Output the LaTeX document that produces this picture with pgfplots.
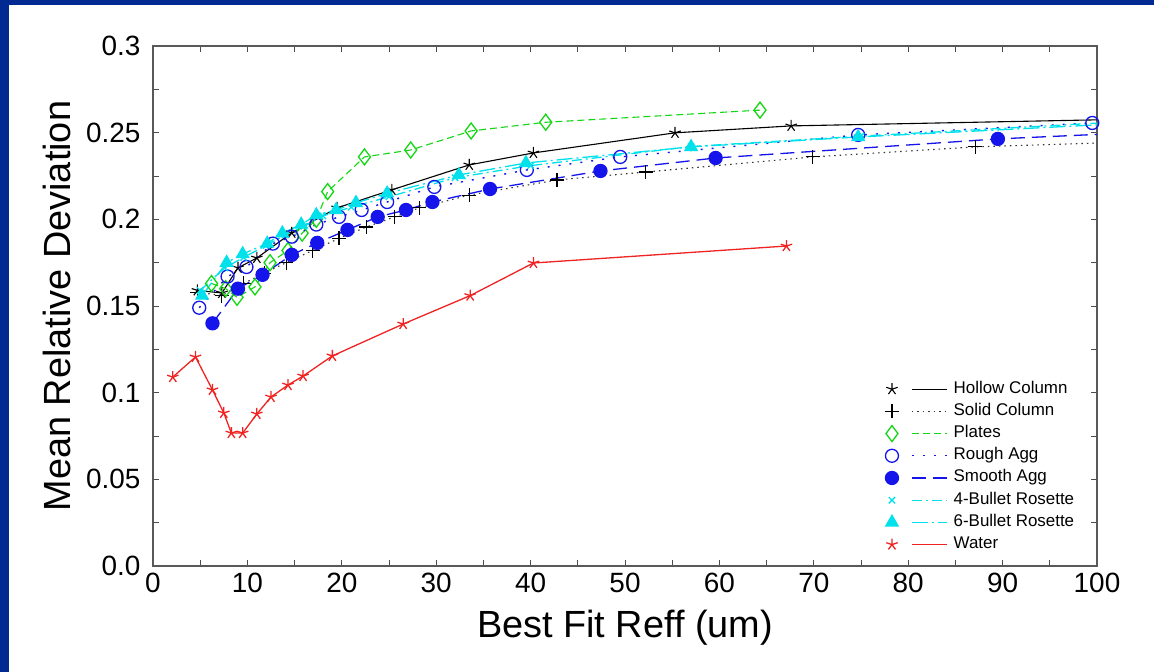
\documentclass[border=0pt]{standalone}
\usepackage{fontspec}
\setmainfont{Liberation Sans}
\usepackage{pgfplots}
\pgfplotsset{compat=1.18}

\definecolor{slideblue}{RGB}{0,42,145}
\definecolor{pgreen}{RGB}{20,215,20}
\definecolor{pblue}{RGB}{20,20,235}
\definecolor{pcyan}{RGB}{0,225,235}
\definecolor{pred}{RGB}{240,35,35}

\begin{document}
\begin{tikzpicture}
\fill[white] (0bp,0bp) rectangle (1154bp,672bp);
\fill[slideblue] (0bp,0bp) rectangle (9bp,672bp);
\fill[slideblue] (0bp,667bp) rectangle (1154bp,672bp);
\useasboundingbox (0bp,0bp) rectangle (1154bp,672bp);
\begin{axis}[
    at={(153bp,106bp)}, anchor=south west,
    scale only axis, width=944bp, height=520bp,
    xmin=0, xmax=100, ymin=0, ymax=0.3,
    xtick={0,10,...,100}, minor x tick num=1,
    ytick={0,0.05,0.1,0.15,0.2,0.25,0.3},
    yticklabels={0.0,0.05,0.1,0.15,0.2,0.25,0.3},
    minor y tick num=1,
    tick align=inside,
    major tick length=6bp, minor tick length=6bp,
    axis line style={draw=black!65, line width=1.6bp},
    every tick/.style={black!70, line width=0.9bp},
    ticklabel style={font=\fontsize{28}{30}\selectfont},
    yticklabel style={xshift=-9bp},
    xticklabel style={yshift=-4bp},
    /pgf/number format/assume math mode=true,
    xlabel={Best Fit Reff (um)},
    ylabel={Mean Relative Deviation},
    label style={font=\fontsize{38}{42}\selectfont},
    xlabel style={at={(axis description cs:0.5,-0.119)}, anchor=center},
    ylabel style={at={(axis description cs:-0.102,0.5)}, anchor=center, rotate=0},
    legend style={draw=none, fill=none, at={(rel axis cs:0.772,0.3635)}, anchor=north west,
        font=\fontsize{17}{20}\selectfont, row sep=2.2bp, column sep=4bp,
        nodes={inner sep=2bp, text height=12bp, text depth=4bp}, cells={anchor=west}},
    legend image code/.code={
        \draw[#1, mark=none] (20bp,0bp) -- (55bp,0bp);
        \draw[#1, only marks] plot coordinates {(0bp,0bp)};
    },
]
% Hollow Column
\addplot[black, line width=1.1bp, mark=star, mark size=6bp, mark options={solid},
    mark indices={1,2,3,4,5,6,7,8,9,10,11}] coordinates {
(4.7,0.159) (7.3,0.1575) (9.0,0.172) (11.0,0.1777) (14.7,0.1922) (19.5,0.2066)
(25.3,0.217) (33.5,0.2314) (40.3,0.2383) (55.3,0.2499) (67.6,0.2539) (100,0.2574)};
\addlegendentry{Hollow Column}
% Solid Column
\addplot[black!80, line width=1.1bp, dash pattern=on 1.5bp off 4bp, mark=+, mark size=7bp,
    mark options={solid, black}, mark indices={1,2,3,4,5,6,7,8,9,10,11,12,13,14,15}] coordinates {
(4.7,0.158) (7.3,0.156) (9.6,0.163) (11.8,0.169) (14.1,0.175) (16.9,0.182) (19.7,0.189)
(22.6,0.1956) (25.6,0.2014) (28.2,0.2066) (33.5,0.214) (42.8,0.2227) (52.2,0.2273)
(69.9,0.236) (87.1,0.2418) (100,0.244)};
\addlegendentry{Solid Column}
% Plates
\addplot[pgreen, line width=1.1bp, dash pattern=on 7bp off 4bp, mark=diamond, mark size=8bp,
    mark options={solid, line width=1.3bp}] coordinates {
(6.2,0.163) (7.7,0.160) (8.9,0.155) (10.8,0.161) (12.4,0.175) (14.3,0.182) (15.8,0.192)
(17.3,0.200) (18.5,0.216) (22.4,0.236) (27.3,0.240) (33.7,0.251) (41.6,0.256) (64.3,0.263)};
\addlegendentry{Plates}
% Rough Agg
\addplot[pblue, line width=1.4bp, dash pattern=on 2bp off 9bp, mark=o, mark size=6.5bp,
    mark options={solid, line width=1.3bp}] coordinates {
(4.9,0.149) (7.9,0.167) (9.9,0.1725) (12.7,0.186) (14.7,0.190) (17.3,0.197) (19.7,0.2014)
(22.1,0.2054) (24.8,0.210) (29.8,0.2187) (39.6,0.2285) (49.5,0.236) (74.7,0.2487) (99.5,0.2556)};
\addlegendentry{Rough Agg}
% Smooth Agg
\addplot[pblue, line width=1.3bp, dash pattern=on 14bp off 7bp, mark=*, mark size=6.5bp,
    mark options={solid, fill=pblue}, mark indices={1,2,3,4,5,6,7,8,9,10,11,12,13}] coordinates {
(6.3,0.140) (9.0,0.160) (11.6,0.168) (14.7,0.1795) (17.4,0.1864) (20.6,0.1939) (23.8,0.2014)
(26.8,0.2054) (29.6,0.210) (35.7,0.2175) (47.4,0.2279) (59.6,0.2354) (89.5,0.2464) (100,0.249)};
\addlegendentry{Smooth Agg}
% 4-Bullet Rosette
\addplot[pcyan, line width=1.3bp, dash pattern=on 10bp off 4bp on 2bp off 4bp, mark=x, mark size=4.5bp,
    mark options={solid}, mark indices={1,2,3,4,5,6,7,8,9,10,11,12,13}] coordinates {
(5.0,0.159) (7.6,0.172) (9.6,0.178) (12.0,0.185) (14.0,0.191) (16.0,0.196) (18.0,0.202)
(21.0,0.207) (25.0,0.213) (32.0,0.224) (40.0,0.231) (57.0,0.242) (75.0,0.248) (100,0.2555)};
\addlegendentry{4-Bullet Rosette}
% 6-Bullet Rosette
\addplot[pcyan, line width=1.3bp, dash pattern=on 16bp off 4bp on 2bp off 4bp, mark=triangle*, mark size=7bp,
    mark options={solid, fill=pcyan}, mark indices={1,2,3,4,5,6,7,8,9,10,11,12,13,14}] coordinates {
(5.2,0.156) (7.8,0.175) (9.5,0.180) (12.1,0.186) (13.7,0.192) (15.7,0.197) (17.3,0.2025)
(19.4,0.2054) (21.5,0.2095) (24.8,0.215) (32.4,0.2256) (39.5,0.2325) (57.0,0.2418) (74.7,0.2475) (100,0.2545)};
\addlegendentry{6-Bullet Rosette}
% Water
\addplot[pred, line width=1.3bp, mark=star, mark size=6bp, mark options={solid}] coordinates {
(2.1,0.109) (4.5,0.1206) (6.3,0.1016) (7.5,0.0883) (8.3,0.0767) (9.5,0.0767) (11.0,0.0877)
(12.5,0.0975) (14.3,0.1044) (15.9,0.1096) (19.0,0.1212) (26.5,0.1396) (33.6,0.156)
(40.3,0.1748) (67.1,0.1846)};
\addlegendentry{Water}
\end{axis}
\end{tikzpicture}
\end{document}
